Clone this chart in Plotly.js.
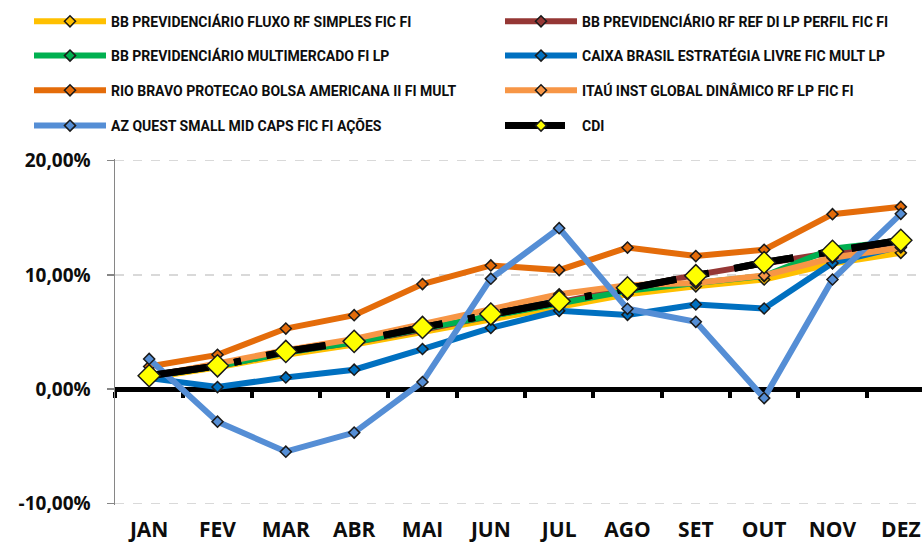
<!DOCTYPE html>
<html><head><meta charset="utf-8">
<script src="https://cdn.plot.ly/plotly-3.0.1.min.js"></script>
<style>html,body{margin:0;padding:0;background:#fff}#chart{width:922px;height:546px}</style>
</head><body><div id="chart"></div>
<script>
const months = ['JAN','FEV','MAR','ABR','MAI','JUN','JUL','AGO','SET','OUT','NOV','DEZ'];
const seriesNames = [
  'BB PREVIDENCIÁRIO FLUXO RF SIMPLES FIC FI',
  'BB PREVIDENCIÁRIO RF REF DI LP PERFIL FIC FI',
  'BB PREVIDENCIÁRIO MULTIMERCADO FI LP',
  'CAIXA BRASIL ESTRATÉGIA LIVRE FIC MULT LP',
  'RIO BRAVO PROTECAO BOLSA AMERICANA II FI MULT',
  'ITAÚ INST GLOBAL DINÂMICO RF LP FIC FI',
  'AZ QUEST SMALL MID CAPS FIC FI AÇÕES',
  'CDI'
];
const bbFluxo     = [1.00, 1.90, 3.00, 3.90, 5.00, 6.10, 7.20, 8.30, 9.00, 9.60, 11.00, 11.93];
const bbRfRef     = [1.10, 2.00, 3.20, 4.10, 5.20, 6.40, 7.60, 8.80, 10.00, 11.00, 12.00, 12.90];
const bbMulti     = [1.10, 2.00, 3.20, 4.10, 5.30, 6.40, 7.50, 8.60, 9.30, 9.90, 12.30, 13.00];
const caixa       = [0.96, 0.18, 1.02, 1.70, 3.51, 5.36, 6.85, 6.50, 7.41, 7.06, 11.05, 12.50];
const rioBravo    = [1.98, 3.00, 5.30, 6.47, 9.20, 10.83, 10.42, 12.39, 11.65, 12.20, 15.32, 15.96];
const itau        = [1.10, 2.30, 3.40, 4.40, 5.70, 7.00, 8.30, 9.10, 9.30, 9.95, 11.50, 12.40];
const azQuest     = [2.64, -2.85, -5.48, -3.81, 0.62, 9.67, 14.09, 7.03, 5.89, -0.79, 9.60, 15.35];
const cdi         = [1.17, 2.04, 3.30, 4.18, 5.40, 6.57, 7.70, 8.87, 9.93, 11.08, 12.07, 13.03];
const yTicks = [-10, 0, 10, 20];
const yTickText = yTicks.map(v => v.toFixed(2).replace('.', ',') + '%');

const seriesValues = [bbFluxo, bbRfRef, bbMulti, caixa, rioBravo, itau, azQuest, cdi];
const colors = ['#FFC000','#953735','#00B050','#0070C0','#E46C0A','#F79646','#558ED5','#000000'];
const cdiDash = '60px,26px,7px,26px';

const traces = [];
seriesValues.forEach((vals, i) => {
  const legendKey = i === 0 ? 'legend' : 'legend' + (i + 1);
  if (i === 7) {
    // legend entry for CDI (small diamond), fully covered by the main CDI trace below
    traces.push({
      type: 'scatter', mode: 'lines+markers', x: months, y: vals, name: seriesNames[i],
      legend: legendKey,
      line: {color: '#000', width: 7, dash: cdiDash},
      marker: {symbol: 'diamond', size: 8.5, color: '#FFFF00', line: {color: '#1a1a1a', width: 1.5}},
      hoverinfo: 'skip'
    });
    traces.push({
      type: 'scatter', mode: 'lines+markers', x: months, y: vals, name: seriesNames[i],
      showlegend: false,
      line: {color: '#000', width: 7, dash: cdiDash},
      marker: {symbol: 'diamond', size: 17, color: '#FFFF00', line: {color: '#1a1a1a', width: 1.5}},
      hoverinfo: 'skip'
    });
  } else {
    traces.push({
      type: 'scatter', mode: 'lines+markers', x: months, y: vals, name: seriesNames[i],
      legend: legendKey,
      line: {color: colors[i], width: 6},
      marker: {symbol: 'diamond', size: 8.5, color: colors[i], line: {color: '#1a1a1a', width: 1.5}},
      hoverinfo: 'skip'
    });
  }
});

const yMin = -10.15, yMax = 20.15;
const L = 115, T = 159, B = 41, W = 922 - L, H = 546 - B - T;
const rowPx = [21.7, 56, 90.7, 126];
const colTextPx = [111, 582];
const legendFont = {family: 'Roboto', size: 14, weight: 'bold', color: '#0d0d0d'};
const layout = {
  width: 922, height: 546,
  margin: {l: L, r: 0, t: T, b: B, pad: 0},
  paper_bgcolor: '#fff', plot_bgcolor: '#fff',
  showlegend: true,
  xaxis: {
    type: 'category', range: [-0.5, 11.31], anchor: 'free', position: (0 - yMin) / (yMax - yMin),
    showline: true, linecolor: '#000', linewidth: 5, layer: 'below traces',
    ticks: 'outside', tickson: 'boundaries', ticklen: 6, tickwidth: 4, tickcolor: '#000',
    showgrid: false, zeroline: false,
    tickfont: {family: 'Open Sans', size: 21, weight: 'bold', color: '#0d0d0d'},
    ticklabelstandoff: 120, fixedrange: true
  },
  yaxis: {
    range: [yMin, yMax], tickvals: yTicks, ticktext: yTickText,
    showline: true, linecolor: '#868686', linewidth: 1.5,
    ticks: 'outside', ticklen: 7, tickwidth: 1.5, tickcolor: '#868686',
    showgrid: true, gridcolor: '#d9d9d9', gridwidth: 1.5, griddash: 'dash',
    zeroline: false,
    tickfont: {family: 'Open Sans', size: 19, weight: 'bold', color: '#0d0d0d'},
    ticklabelstandoff: 12, fixedrange: true
  }
};
for (let i = 0; i < 8; i++) {
  const key = i === 0 ? 'legend' : 'legend' + (i + 1);
  const row = Math.floor(i / 2), col = i % 2;
  const itemStart = colTextPx[col] - 82;
  layout[key] = {
    orientation: 'h', xanchor: 'left', yanchor: 'middle',
    x: (itemStart - L) / W, y: (T + H - rowPx[row]) / H,
    font: legendFont, itemwidth: 72, bgcolor: 'rgba(0,0,0,0)', borderwidth: 0
  };
}
Plotly.newPlot('chart', traces, layout, {staticPlot: true, displayModeBar: false});
</script></body></html>
